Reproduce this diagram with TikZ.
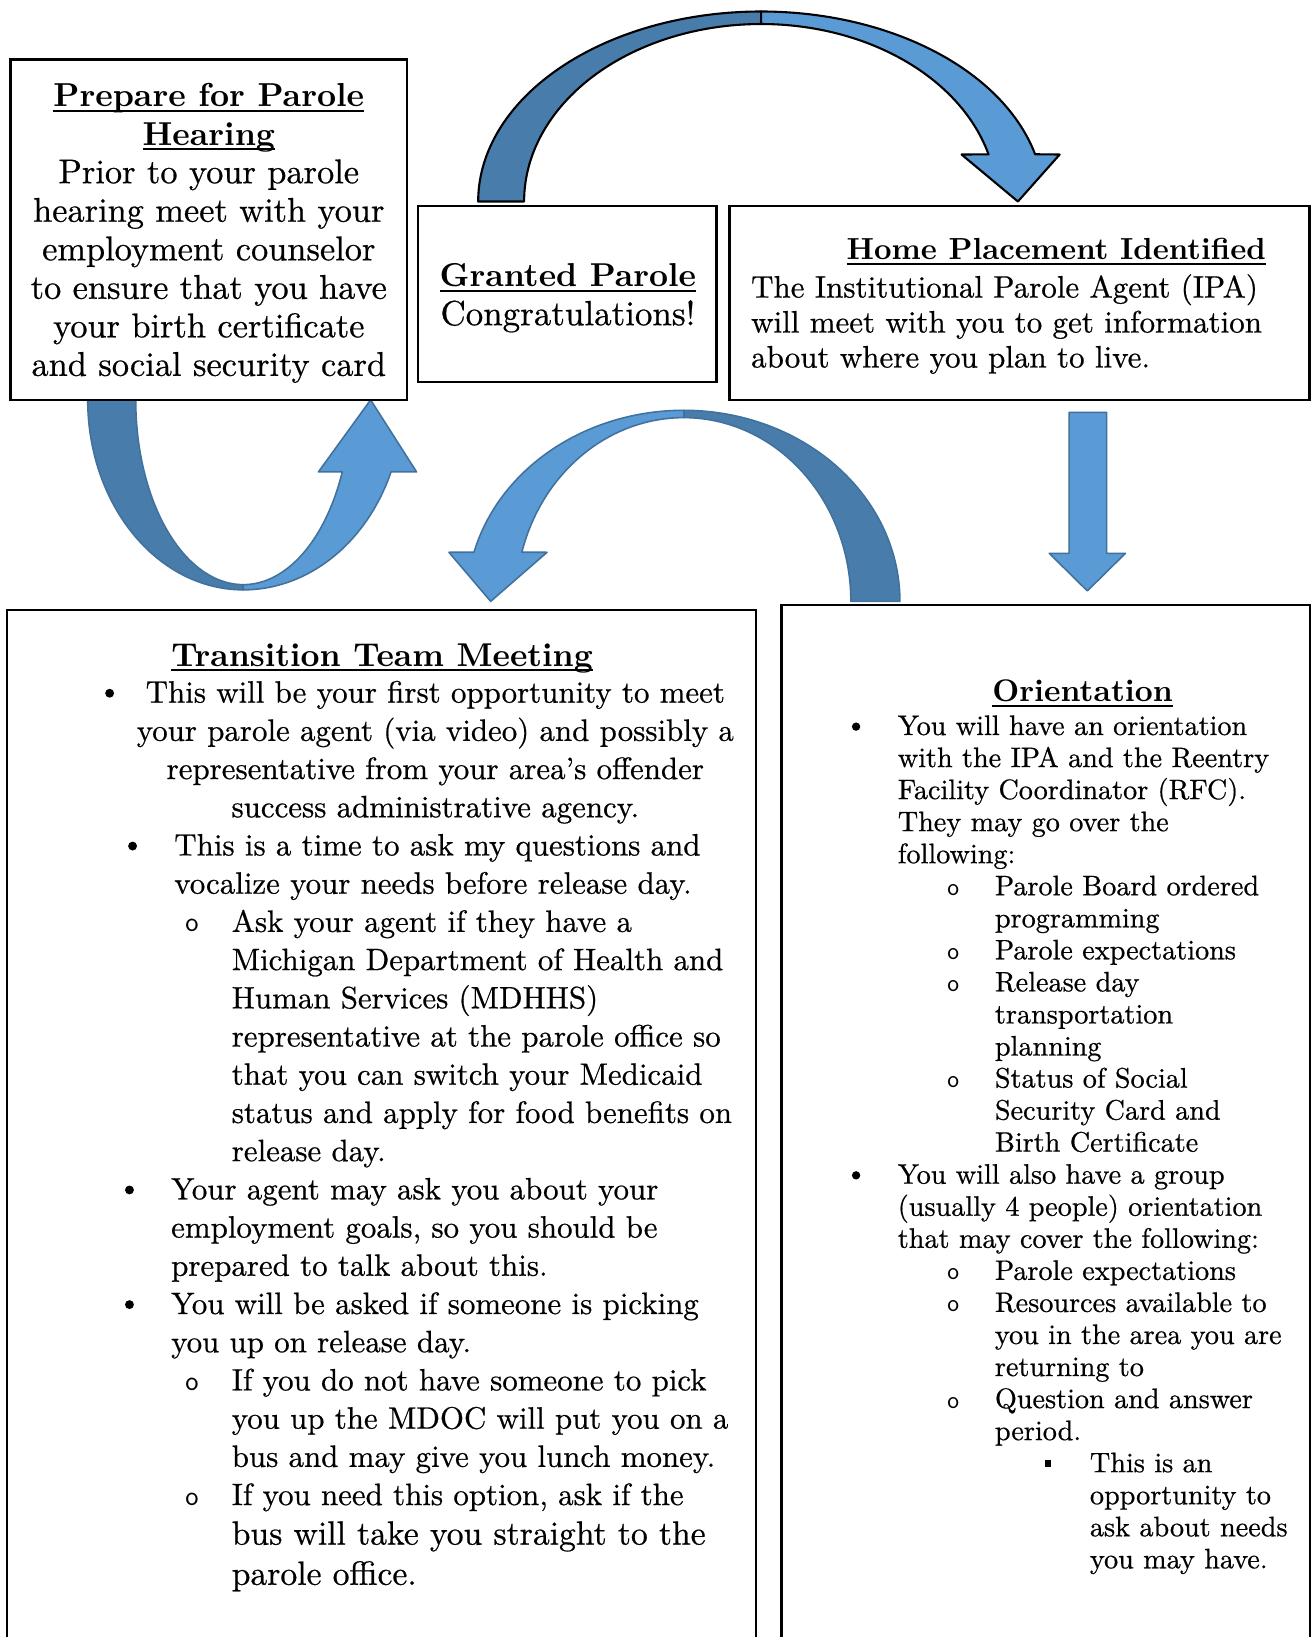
\documentclass[tikz,border=0pt]{standalone}
\usepackage{fontspec}
\setmainfont{lmroman10}[Extension=.otf, UprightFont=*-regular, BoldFont=*-bold,
  ItalicFont=*-italic, BoldItalicFont=*-bolditalic,
  UprightFeatures={FakeBold=0.6}]
\definecolor{lightblue}{RGB}{91,155,213}
\definecolor{darkblue}{RGB}{72,124,170}
\definecolor{edgeblue}{RGB}{65,113,156}
\newcommand\ulx[1]{\setbox0\hbox{#1}\rlap{\rule[-5pt]{\wd0}{2pt}}\box0}
\tikzset{
  box/.style={draw=black, line width=2.2pt, fill=white, inner sep=0pt},
  topdark/.style={fill=darkblue, draw=black, line width=2pt, line join=round},
  toplight/.style={fill=lightblue, draw=black, line width=2pt, line join=round},
  adark/.style={fill=darkblue, draw=edgeblue, line width=1.5pt, line join=round},
  alight/.style={fill=lightblue, draw=edgeblue, line width=1.5pt, line join=round},
  txt/.style={inner sep=0pt, outer sep=0pt},
  hprep/.style={txt, anchor=base, font=\fontsize{31.8}{31.8}\bfseries\selectfont},
  tprep/.style={txt, anchor=base, font=\fontsize{32.9}{32.9}\selectfont},
  hgr/.style={txt, anchor=base, font=\fontsize{31.7}{31.7}\bfseries\selectfont},
  tgr/.style={txt, anchor=base, font=\fontsize{33.5}{33.5}\selectfont},
  hhome/.style={txt, anchor=base west, font=\fontsize{29.2}{29.2}\bfseries\selectfont},
  thome/.style={txt, anchor=base west, font=\fontsize{29.7}{29.7}\selectfont},
  htr/.style={txt, anchor=base, font=\fontsize{31.6}{31.6}\bfseries\selectfont},
  ttr/.style={txt, font=\fontsize{29.6}{29.6}\selectfont},
  ttrbig/.style={txt, font=\fontsize{32.2}{32.2}\selectfont},
  hor/.style={txt, anchor=base, font=\fontsize{29.9}{29.9}\bfseries\selectfont},
  tor/.style={txt, anchor=base west, font=\fontsize{27}{27}\selectfont},
  bul/.style={circle, fill=black, inner sep=0pt, minimum size=8.5pt},
  circ/.style={txt, anchor=base, font=\fontsize{27}{27}\sffamily\selectfont},
  ocirc/.style={txt, anchor=base, font=\fontsize{24}{24}\sffamily\selectfont},
  sq/.style={fill=black, inner sep=0pt, minimum width=6pt, minimum height=7pt}
}
\begin{document}
\begin{tikzpicture}[x=1pt,y=-1pt]
\useasboundingbox (0,0) rectangle (1259,1568);
\fill[white] (0,0) rectangle (1259,1568);
\clip (0,0) rectangle (1259,1568);

% ---- curved arrow: Granted -> Home
\path[topdark] plot[domain=180:270,samples=60] ({729+271*cos(\x)},{193+182*sin(\x)})
  -- plot[domain=270:180,samples=60] ({729+227*cos(\x)},{193+170*sin(\x)}) -- cycle;
\path[toplight] plot[domain=270:345.6,samples=60] ({729+271*cos(\x)},{193+182*sin(\x)})
  -- (1015,148) -- (975,193) -- (921,148)
  -- plot[domain=344.6:270,samples=60] ({729+226*cos(\x)},{193+170*sin(\x)}) -- cycle;

% ---- U arrow under Prepare box
\path[adark] plot[domain=180:90,samples=60] ({233+149*cos(\x)},{383+182*sin(\x)})
  -- plot[domain=90:180,samples=60] ({233+103*cos(\x)},{383+177*sin(\x)}) -- cycle;
\path[alight] plot[domain=90:22.3,samples=60] ({233+153*cos(\x)},{383+182*sin(\x)})
  -- (399,452) -- (355,383) -- (305,452)
  -- plot[domain=22.9:90,samples=60] ({233+103*cos(\x)},{383+177*sin(\x)}) -- cycle;

% ---- middle arc arrow: Orientation -> Transition
\path[adark] plot[domain=0:-90,samples=60] ({655+207*cos(\x)},{576+183*sin(\x)})
  -- plot[domain=-90:0,samples=60] ({655+160*cos(\x)},{576+176*sin(\x)}) -- cycle;
\path[alight] plot[domain=-90:-165.1,samples=60] ({655+208*cos(\x)},{576+183*sin(\x)})
  -- (430,529) -- (470,576) -- (524,529)
  -- plot[domain=-164.5:-90,samples=60] ({655+161*cos(\x)},{576+176*sin(\x)}) -- cycle;

% ---- straight down arrow
\path[alight] (1024,395) -- (1060,395) -- (1060,530) -- (1078,530) -- (1041.5,566)
  -- (1005,530) -- (1024,530) -- cycle;

% ---- boxes
\node[box, minimum width=380, minimum height=326] (prep) at (200,220) {};
\node[box, minimum width=286, minimum height=168.3] (granted) at (543.4,281.6) {};
\node[box, minimum width=555.5, minimum height=185.4] (home) at (976.5,290.1) {};
\node[box, minimum width=717.6, minimum height=1030] (trans) at (365.2,1099.5) {};
\node[box, minimum width=506, minimum height=1035] (orient) at (1001.5,1097.1) {};

% ---- Prepare text
\node[hprep] (ph1) at (200,102) {\ulx{Prepare for Parole}};
\node[hprep] (ph2) at (200,139) {\ulx{Hearing}};
\foreach \s [count=\i from 0] in {Prior to your parole, hearing meet with your,
  employment counselor, to ensure that you have, your birth certificate,
  and social security card}
  \node[tprep] (pt\i) at (200,{175.5+36.9*\i}) {\s};

% ---- Granted text
\node[hgr] (gh) at (544,274.5) {\ulx{Granted Parole}};
\node[tgr] (gt) at (544,311.5) {Congratulations!};

% ---- Home text
\node[hhome] (hh) at (811,249) {\ulx{Home Placement Identified}};
\foreach \s [count=\i from 0] in {The Institutional Parole Agent (IPA),
  will meet with you to get information, about where you plan to live.}
  \node[thome] (ht\i) at (719.5,{285+33.5*\i}) {\s};

% ---- Transition text
\node[htr] (th) at (366,638) {\ulx{Transition Team Meeting}};
\node[bul] (tb1) at (105,664) {};
\foreach \s [count=\i from 0] in {This will be your first opportunity to meet,
  your parole agent (via video) and possibly a,
  representative from your area’s offender,
  success administrative agency.}
  \node[ttr, anchor=base] (ta\i) at (417,{673+36.6*\i}) {\s};
\node[bul] (tb2) at (127,810.4) {};
\foreach \s [count=\i from 0] in {This is a time to ask my questions and,
  vocalize your needs before release day.}
  \node[ttr, anchor=base west] (tbt\i) at (167,{819.4+36.6*\i}) {\s};
\node[circ] (tc1) at (184,892.6) {o};
\foreach \s [count=\i from 0] in {Ask your agent if they have a,
  Michigan Department of Health and, Human Services (MDHHS),
  representative at the parole office so, that you can switch your Medicaid,
  status and apply for food benefits on, release day.}
  \node[ttr, anchor=base west] (tct\i) at (222,{892.6+36.6*\i}) {\s};
\node[bul] (tb3) at (124,1139.8) {};
\foreach \s [count=\i from 0] in {Your agent may ask you about your,
  {employment goals, so you should be}, prepared to talk about this.}
  \node[ttr, anchor=base west] (tdt\i) at (164,{1148.8+36.6*\i}) {\s};
\node[bul] (tb4) at (124,1249.6) {};
\foreach \s [count=\i from 0] in {You will be asked if someone is picking,
  you up on release day.}
  \node[ttr, anchor=base west] (tet\i) at (164,{1258.6+36.6*\i}) {\s};
\node[circ] (tc2) at (184,1331.8) {o};
\foreach \s [count=\i from 0] in {If you do not have someone to pick,
  you up the MDOC will put you on a, bus and may give you lunch money.}
  \node[ttr, anchor=base west] (tft\i) at (222,{1331.8+36.6*\i}) {\s};
\node[circ] (tc3) at (184,1441.6) {o};
\node[ttr, anchor=base west] (tg0) at (222,1441.6) {If you need this option, ask if the};
\node[ttrbig, anchor=base west] (tg1) at (222,1479.5) {bus will take you straight to the};
\node[ttrbig, anchor=base west] (tg2) at (222,1518) {parole office.};

% ---- Orientation text
\node[hor] (oh) at (1037,672) {\ulx{Orientation}};
\foreach \xx/\s [count=\i from 0] in {
  860/You will have an orientation, 860/with the IPA and the Reentry,
  860/Facility Coordinator (RFC)., 860/They may go over the, 860/following:,
  953/Parole Board ordered, 953/programming, 953/Parole expectations,
  953/Release day, 953/transportation, 953/planning, 953/Status of Social,
  953/Security Card and, 953/Birth Certificate,
  860/You will also have a group, 860/(usually 4 people) orientation,
  860/that may cover the following:, 953/Parole expectations,
  953/Resources available to, 953/you in the area you are, 953/returning to,
  953/Question and answer, 953/period., 1044/This is an, 1044/opportunity to,
  1044/ask about needs, 1044/you may have.}
  \node[tor] (ot\i) at (\xx,{704+30.7*\i}) {\s};
\foreach \k [count=\j] in {0,14}
  \node[bul, minimum size=8pt] (ob\j) at (820,{704+30.7*\k-8}) {};
\foreach \k [count=\j] in {5,7,8,11,17,18,21}
  \node[ocirc] (oc\j) at (913,{704+30.7*\k}) {o};
\node[sq] (osq) at (1004,{704+30.7*23-8}) {};
\end{tikzpicture}
\end{document}
